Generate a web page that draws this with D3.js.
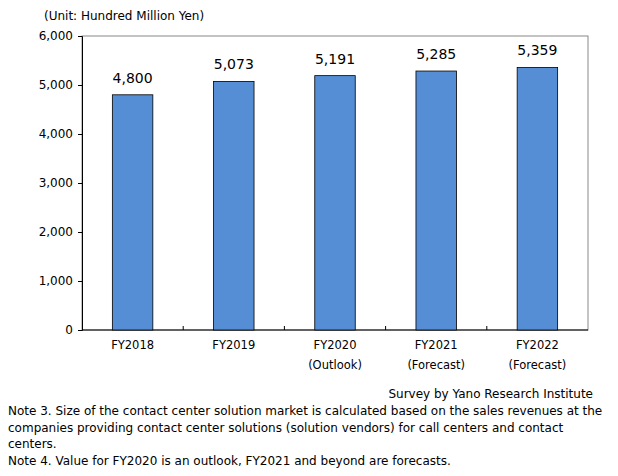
<!DOCTYPE html><html><head><meta charset="utf-8">
<script src="https://cdn.jsdelivr.net/npm/d3@7"></script>
<style>body{margin:0;background:#fff}text{font-family:"DejaVu Sans",sans-serif}</style></head><body>
<svg id="c" width="618" height="476"></svg>
<script>
const categories=[["FY2018"],["FY2019"],["FY2020","(Outlook)"],["FY2021","(Forecast)"],["FY2022","(Forecast)"]];
const values=[4800,5073,5191,5285,5359];
const yTicks=[0,1000,2000,3000,4000,5000,6000];
const notes=["Note 3.  Size of the contact center solution market is calculated based on the sales revenues at the","companies providing contact center solutions (solution vendors) for call centers and contact","centers.","Note 4.  Value for FY2020 is an outlook, FY2021 and beyond are forecasts."];
const svg=d3.select("#c");
const L=82,R=588,T=36,B=330;
const x=d3.scaleBand().domain(d3.range(5)).range([L,R]).paddingInner(0.6).paddingOuter(0.3);
const y=d3.scaleLinear().domain([0,6000]).range([B,T]);
const fmt=d3.format(",");
svg.append("rect").attr("x",L).attr("y",T).attr("width",R-L).attr("height",B-T).attr("fill","none").attr("stroke","#888");
const ya=svg.append("g").attr("transform",`translate(${L},0)`).call(d3.axisLeft(y).tickValues(yTicks).tickFormat(fmt).tickSize(4));
ya.selectAll("text").attr("font-size",12).attr("fill","#000").attr("font-family","DejaVu Sans").attr("dx",-2);
ya.selectAll("line,path").attr("stroke","#000");
const xb=d3.scaleBand().domain(d3.range(5)).range([L,R]);
svg.append("g").attr("transform",`translate(0,${B})`).selectAll("line").data(d3.range(1,5)).join("line")
 .attr("x1",d=>xb(d)).attr("x2",d=>xb(d)).attr("y1",0).attr("y2",-4).attr("stroke","#000");
svg.append("line").attr("x1",L).attr("x2",R).attr("y1",B).attr("y2",B).attr("stroke","#000");
svg.selectAll(".bar").data(values).join("rect").attr("x",(d,i)=>x(i)).attr("width",x.bandwidth())
 .attr("y",d=>y(d)).attr("height",d=>B-y(d)).attr("fill","#558ed5").attr("stroke","#000").attr("stroke-width",0.8);
svg.selectAll(".lbl").data(values).join("text").attr("x",(d,i)=>x(i)+x.bandwidth()/2).attr("y",d=>y(d)-12)
 .attr("text-anchor","middle").attr("font-size",14).text(fmt);
categories.forEach((c,i)=>c.forEach((t,j)=>svg.append("text").attr("x",x(i)+x.bandwidth()/2).attr("y",B+19+j*20)
 .attr("text-anchor","middle").attr("font-size",11.5).text(t)));
svg.append("text").attr("x",44).attr("y",20).attr("font-size",12).text("(Unit: Hundred Million Yen)");
svg.append("text").attr("x",593).attr("y",398).attr("text-anchor","end").attr("font-size",12).text("Survey by Yano Research Institute");
notes.forEach((n,i)=>svg.append("text").attr("x",8).attr("y",415+i*16.5).attr("font-size",12).text(n));
</script></body></html>
